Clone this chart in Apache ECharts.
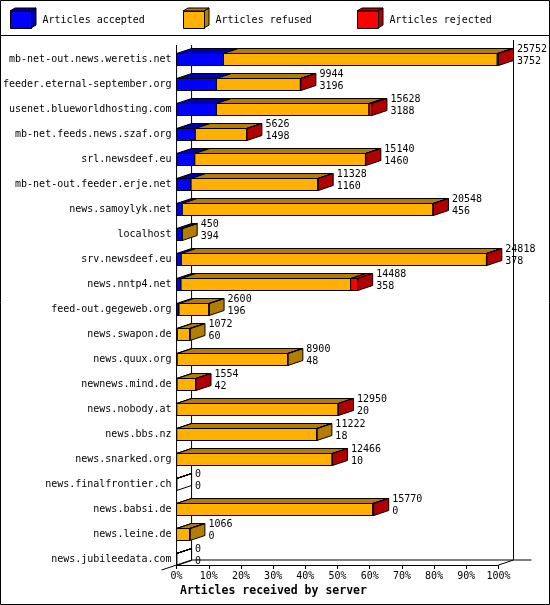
<!DOCTYPE html>
<html>
<head>
<meta charset="utf-8">
<script src="https://cdn.jsdelivr.net/npm/echarts@6/dist/echarts.min.js"></script>
<style>
html,body{margin:0;padding:0;background:#fff;}
#chart{width:550px;height:605px;}
</style>
</head>
<body>
<div id="chart"></div>
<script>
const categories = [
  'mb-net-out.news.weretis.net','feeder.eternal-september.org','usenet.blueworldhosting.com',
  'mb-net.feeds.news.szaf.org','srl.newsdeef.eu','mb-net-out.feeder.erje.net','news.samoylyk.net',
  'localhost','srv.newsdeef.eu','news.nntp4.net','feed-out.gegeweb.org','news.swapon.de',
  'news.quux.org','newnews.mind.de','news.nobody.at','news.bbs.nz','news.snarked.org',
  'news.finalfrontier.ch','news.babsi.de','news.leine.de','news.jubileedata.com'
];
const accepted = [3752,3196,3188,1498,1460,1160,456,394,378,358,196,60,48,42,20,18,10,0,0,0,0];
const refused  = [21900,6708,12200,4108,13650,10138,20052,56,24410,13570,2404,1012,8852,1492,12900,11204,12436,0,15690,1066,0];
const rejected = [100,40,240,20,30,30,40,0,30,560,0,0,0,20,30,0,20,0,80,0,0];
const seriesNames = ['Articles accepted','Articles refused','Articles rejected'];
const frontColors = ['#0000ff','#ffb000','#ff0000'];
const darkColors  = ['#0000b0','#b47c00','#b00000'];

const segs = [accepted, refused, rejected];
const totals = categories.map((_, i) => accepted[i] + refused[i] + rejected[i]);
const maxTotal = Math.max(...totals);
const pct = v => v / maxTotal * 100;

const DX = 15, DY = 5, FH = 12;
const FONT = '"DejaVu Sans Mono", monospace';

function lastNonZero(i) {
  for (let k = 2; k >= 0; k--) if (segs[k][i] > 0) return k;
  return 2;
}

function makeSeries(k) {
  const data = categories.map((c, i) => {
    let start = 0;
    for (let j = 0; j < k; j++) start += segs[j][i];
    return [pct(start), pct(start + segs[k][i]), i];
  });
  return {
    type: 'custom',
    name: seriesNames[k],
    itemStyle: { color: frontColors[k] },
    encode: { x: [0, 1], y: 2 },
    data: data,
    renderItem: function (params, api) {
      const i = api.value(2);
      const a = api.coord([api.value(0), i]);
      const b = api.coord([api.value(1), i]);
      const xa = a[0], xb = b[0];
      const top = a[1] + 1;
      const empty = totals[i] === 0;
      const children = [];
      children.push({
        type: 'polygon',
        shape: { points: [[xa, top], [xa + DX, top - DY], [xb + DX, top - DY], [xb, top]] },
        style: { fill: darkColors[k], stroke: '#000', lineWidth: 1 }
      });
      children.push({
        type: 'rect',
        shape: { x: xa, y: top, width: xb - xa, height: FH },
        style: { fill: frontColors[k], stroke: '#000', lineWidth: 1 }
      });
      if (lastNonZero(i) === k) {
        children.push({
          type: 'polygon',
          shape: { points: [[xb, top], [xb + DX, top - DY], [xb + DX, top + FH - DY], [xb, top + FH]] },
          style: { fill: empty ? null : darkColors[k], stroke: '#000', lineWidth: 1 }
        });
      }
      if (k === 2) {
        const e = api.coord([pct(totals[i]), i]);
        children.push({
          type: 'text',
          x: e[0] + 18.5,
          y: a[1] + 2.5,
          style: {
            text: totals[i] + '\n' + accepted[i],
            font: '10px ' + FONT,
            fill: '#000',
            verticalAlign: 'middle',
            align: 'left',
            lineHeight: 12
          }
        });
      }
      return { type: 'group', children: children };
    },
    z: 3 + k
  };
}

const frameSeries = {
  type: 'custom',
  name: 'frame',
  silent: true,
  data: [[0, 0]],
  encode: { x: 0, y: 1 },
  renderItem: function (params, api) {
    const p0 = api.coord([0, 0]);
    const pN = api.coord([100, categories.length - 1]);
    const band = api.size([0, 1])[1];
    const xL = p0[0], xR = pN[0];
    const yTop = p0[1] - band / 2;
    const yBot = pN[1] + band / 2;
    const st = { stroke: '#000', lineWidth: 1, fill: null };
    const L = (x1, y1, x2, y2) => ({ type: 'line', shape: { x1, y1, x2, y2 }, style: st });
    return {
      type: 'group',
      children: [
        L(xL, yTop + DY, xL, yBot),
        L(xL + DX, yTop + DY, xL + DX, yBot - DY),
        L(xR + DX, yTop, xR + DX, yBot - DY),
        L(xL + DX, yBot - DY, xR + DX + 18, yBot - DY),
        L(xR, yBot, xR + DX, yBot - DY),
        L(xL - DX, yBot + DY, xL + DX, yBot - DY)
      ]
    };
  },
  z: 1
};

const legendX = [10, 183, 357];
const legends = seriesNames.map((n, k) => ({
  data: [n],
  left: legendX[k],
  top: 11,
  padding: 0,
  itemWidth: 21,
  itemHeight: 17,
  icon: 'rect',
  selectedMode: false,
  itemStyle: { borderColor: '#000', borderWidth: 1 },
  textStyle: { fontFamily: FONT, fontSize: 10, color: '#000', padding: [0, 0, 0, 6] }
}));

const legendFaces = [];
legendX.forEach((x, k) => {
  legendFaces.push({
    type: 'polygon',
    shape: { points: [[x + 21, 11], [x + 26, 8], [x + 26, 25], [x + 21, 28]] },
    style: { fill: darkColors[k], stroke: '#000', lineWidth: 1 }
  });
  legendFaces.push({
    type: 'polygon',
    shape: { points: [[x, 11], [x + 5, 8], [x + 26, 8], [x + 21, 11]] },
    style: { fill: darkColors[k], stroke: '#000', lineWidth: 1 }
  });
});

const chart = echarts.init(document.getElementById('chart'), null, { renderer: 'canvas' });
chart.setOption({
  backgroundColor: '#fff',
  animation: false,
  title: {
    text: 'Articles received by server',
    left: 180,
    top: 585,
    padding: 0,
    textStyle: { fontFamily: FONT, fontSize: 11.5, fontWeight: 'bold', color: '#000' }
  },
  legend: legends,
  grid: { left: 176.5, right: 51.5, top: 40, bottom: 40, containLabel: false },
  xAxis: {
    type: 'value',
    min: 0,
    max: 100,
    interval: 10,
    axisLine: { show: true, lineStyle: { color: '#000', width: 1 } },
    axisTick: { show: true, length: 4, lineStyle: { color: '#000' } },
    splitLine: { show: false },
    axisLabel: { formatter: '{value}%', fontFamily: FONT, fontSize: 10, color: '#000', margin: 6 }
  },
  yAxis: {
    type: 'category',
    data: categories,
    inverse: true,
    axisLine: { show: false },
    axisTick: { show: false },
    splitLine: { show: false },
    axisLabel: {
      margin: 5,
      formatter: v => '{a|' + v + '}',
      rich: { a: { fontFamily: FONT, fontSize: 10, color: '#000', padding: [14, 0, 0, 0] } }
    }
  },
  graphic: [
    { type: 'rect', shape: { x: 0.5, y: 0.5, width: 549, height: 604 }, style: { fill: null, stroke: '#000', lineWidth: 1 }, z: 100 },
    { type: 'line', shape: { x1: 0, y1: 35.5, x2: 550, y2: 35.5 }, style: { stroke: '#000', lineWidth: 1 } }
  ].concat(legendFaces),
  series: [frameSeries, makeSeries(0), makeSeries(1), makeSeries(2)]
});
</script>
</body>
</html>
